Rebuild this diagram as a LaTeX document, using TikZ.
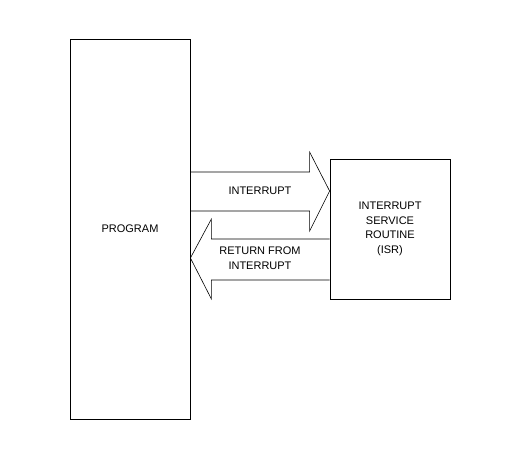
\documentclass[tikz,border=0pt]{standalone}
\usepackage{fontspec}
\setmainfont{Liberation Sans}
\usetikzlibrary{calc,positioning}
\tikzset{
    block/.style={rectangle, draw=black, line width=0.8pt, align=center, font=\fontsize{11}{14.5}\selectfont},
    fatarrow/.style={draw=black, line width=0.6pt},
    label/.style={align=center, font=\fontsize{11}{14.5}\selectfont}
}
\begin{document}
\begin{tikzpicture}[x=1pt, y=-1pt]
\useasboundingbox (0,0) rectangle (507,457);

% Boxes
\node[block, minimum width=120pt, minimum height=380pt] (prog) at (130,229) {PROGRAM};
\node[block, minimum width=120pt, minimum height=140pt] (isr) at (390,229) {INTERRUPT\\SERVICE\\ROUTINE\\(ISR)};

% Arrows
\draw[fatarrow] ($(prog.east)+(0,-57)$) -- ($(isr.west)+(-20,-57)$) -- ($(isr.west)+(-20,-77)$)
    -- ($(isr.west)+(0,-38)$) -- ($(isr.west)+(-20,2)$) -- ($(isr.west)+(-20,-18)$) -- ($(prog.east)+(0,-18)$);
\draw[fatarrow] ($(isr.west)+(0,10)$) -- ($(prog.east)+(21,10)$) -- ($(prog.east)+(21,-10)$)
    -- ($(prog.east)+(0,29)$) -- ($(prog.east)+(21,70)$) -- ($(prog.east)+(21,51)$) -- ($(isr.west)+(0,51)$);

% Labels
\node[label] (irq) at ($($(prog.east)!0.5!(isr.west)$)+(0,-38)$) {INTERRUPT};
\node[label] (ret) at ($($(prog.east)!0.5!(isr.west)$)+(0,29)$) {RETURN FROM\\INTERRUPT};

\end{tikzpicture}
\end{document}
